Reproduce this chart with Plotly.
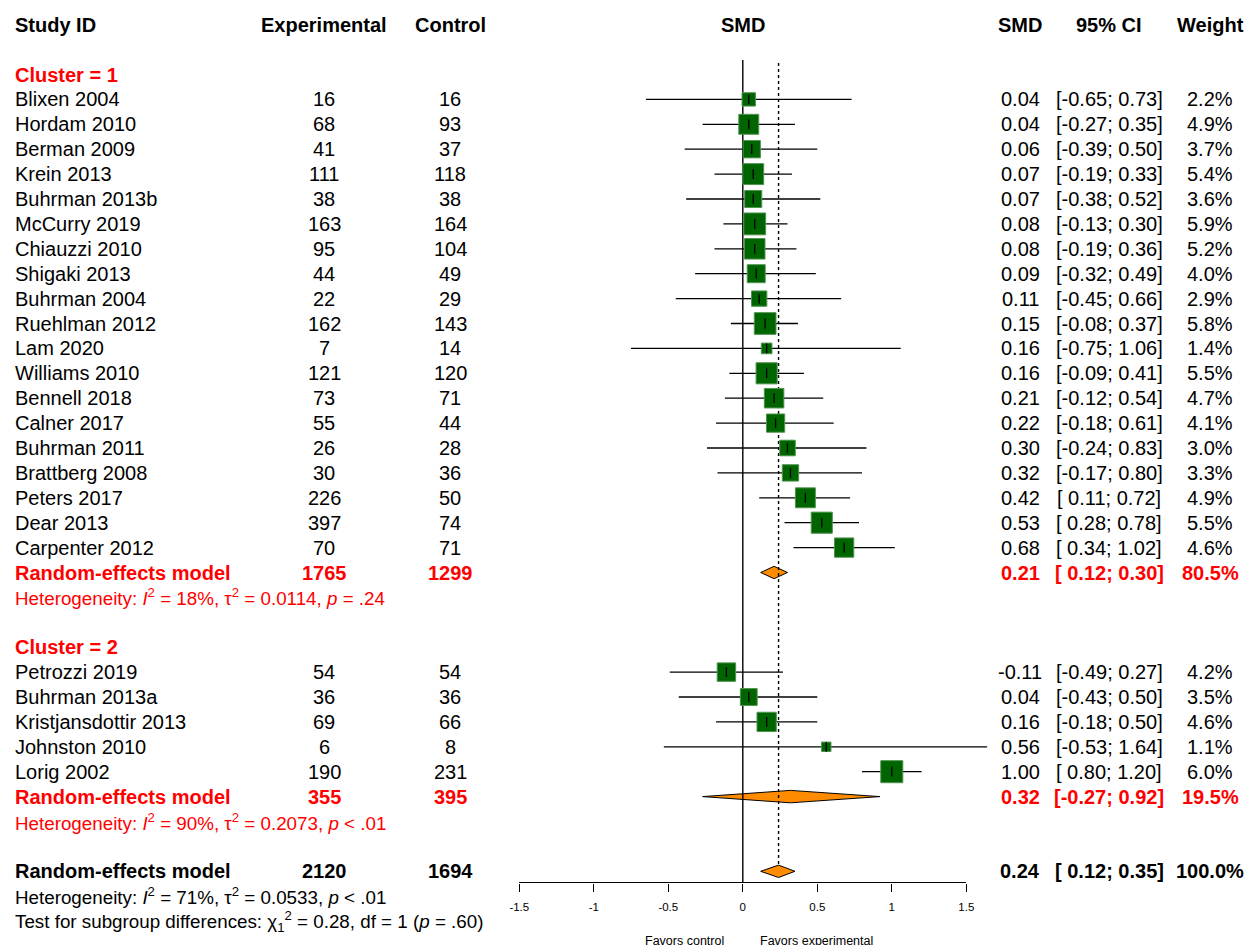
import plotly.graph_objects as go

# ---------------- data ----------------
c1_study = ["Blixen 2004", "Hordam 2010", "Berman 2009", "Krein 2013", "Buhrman 2013b",
            "McCurry 2019", "Chiauzzi 2010", "Shigaki 2013", "Buhrman 2004", "Ruehlman 2012",
            "Lam 2020", "Williams 2010", "Bennell 2018", "Calner 2017", "Buhrman 2011",
            "Brattberg 2008", "Peters 2017", "Dear 2013", "Carpenter 2012"]
c1_n_exp = [16, 68, 41, 111, 38, 163, 95, 44, 22, 162, 7, 121, 73, 55, 26, 30, 226, 397, 70]
c1_n_ctrl = [16, 93, 37, 118, 38, 164, 104, 49, 29, 143, 14, 120, 71, 44, 28, 36, 50, 74, 71]
c1_smd = [0.04, 0.04, 0.06, 0.07, 0.07, 0.08, 0.08, 0.09, 0.11, 0.15, 0.16, 0.16, 0.21, 0.22,
          0.30, 0.32, 0.42, 0.53, 0.68]
c1_lo = [-0.65, -0.27, -0.39, -0.19, -0.38, -0.13, -0.19, -0.32, -0.45, -0.08, -0.75, -0.09,
         -0.12, -0.18, -0.24, -0.17, 0.11, 0.28, 0.34]
c1_hi = [0.73, 0.35, 0.50, 0.33, 0.52, 0.30, 0.36, 0.49, 0.66, 0.37, 1.06, 0.41, 0.54, 0.61,
         0.83, 0.80, 0.72, 0.78, 1.02]
c1_w = [2.2, 4.9, 3.7, 5.4, 3.6, 5.9, 5.2, 4.0, 2.9, 5.8, 1.4, 5.5, 4.7, 4.1, 3.0, 3.3, 4.9, 5.5, 4.6]
c1_re_n = [1765, 1299]
c1_re_ci = [0.21, 0.12, 0.30]
c1_re_w = 80.5
c1_het = "Heterogeneity: <i>I</i><sup>2</sup> = 18%, τ<sup>2</sup> = 0.0114, <i>p</i> = .24"

c2_study = ["Petrozzi 2019", "Buhrman 2013a", "Kristjansdottir 2013", "Johnston 2010", "Lorig 2002"]
c2_n_exp = [54, 36, 69, 6, 190]
c2_n_ctrl = [54, 36, 66, 8, 231]
c2_smd = [-0.11, 0.04, 0.16, 0.56, 1.00]
c2_lo = [-0.49, -0.43, -0.18, -0.53, 0.80]
c2_hi = [0.27, 0.50, 0.50, 1.64, 1.20]
c2_w = [4.2, 3.5, 4.6, 1.1, 6.0]
c2_re_n = [355, 395]
c2_re_ci = [0.32, -0.27, 0.92]
c2_re_w = 19.5
c2_het = "Heterogeneity: <i>I</i><sup>2</sup> = 90%, τ<sup>2</sup> = 0.2073, <i>p</i> &lt; .01"

all_re_n = [2120, 1694]
all_re_ci = [0.24, 0.12, 0.35]
all_re_w = 100.0
all_het = "Heterogeneity: <i>I</i><sup>2</sup> = 71%, τ<sup>2</sup> = 0.0533, <i>p</i> &lt; .01"
all_test = ("Test for subgroup differences: χ<sub>1</sub><sup>2</sup> = 0.28, df = 1 "
            "(<i>p</i> = .60)")

tick_vals = [-1.5, -1, -0.5, 0, 0.5, 1, 1.5]
tick_text = ["-1.5", "-1", "-0.5", "0", "0.5", "1", "1.5"]
headers = ["Study ID", "Experimental", "Control", "SMD", "SMD", "95% CI", "Weight"]
label_left = "Favors control"
label_right = "Favors experimental"

# ---------------- layout constants (pixels) ----------------
W, H = 1248, 945
ROW0, STEP = 74.5, 24.9           # pixel of row 0, pixels per row
X0, XS = 742.8, 149.0             # pixel of SMD 0, pixels per SMD unit
AXIS_Y = 882.3
FONT = "Liberation Sans, Arial, sans-serif"
RED = "#FF0000"
GREEN = "#006400"
ORANGE = "#FF8C00"
FS = 20
FS_HET = 18.8
FS_TICK = 11.5

COL_STUDY = 13
COL_EXP = 324
COL_CTRL = 450
COL_SMD = 1020
COL_CI = 1109
COL_W = 1210

def fy(p):
    """pixel row -> y data (row units)"""
    return (p - ROW0) / STEP

def fx(p):
    """pixel column -> x data (SMD units)"""
    return (p - X0) / XS

fig = go.Figure()
ann = []

def txt(xp, r, s, color="black", size=FS, anchor="center", bold=False):
    ann.append(dict(x=fx(xp), xref="x", y=r, yref="y",
                    text=f"<b>{s}</b>" if bold else s, showarrow=False,
                    xanchor=anchor, yanchor="middle",
                    font=dict(family=FONT, size=size, color=color)))

def fmt_ci(lo, hi):
    return f"[{lo:5.2f}; {hi:4.2f}]"

# headers
HR = -2
txt(COL_STUDY, HR, headers[0], anchor="left", bold=True)
txt(COL_EXP, HR, headers[1], bold=True)
txt(COL_CTRL, HR, headers[2], bold=True)
txt(X0, HR, headers[3], bold=True)
txt(COL_SMD, HR, headers[4], bold=True)
txt(COL_CI, HR, headers[5], bold=True)
txt(COL_W, HR, headers[6], bold=True)

ci_x, ci_y = [], []
sq_x, sq_y, sq_s = [], [], []

def add_studies(start, study, ne, nc, smd, lo, hi, w):
    for i in range(len(study)):
        r = start + i
        txt(COL_STUDY, r, study[i], anchor="left")
        txt(COL_EXP, r, str(ne[i]))
        txt(COL_CTRL, r, str(nc[i]))
        txt(COL_SMD, r, f"{smd[i]:.2f}")
        txt(COL_CI, r, fmt_ci(lo[i], hi[i]))
        txt(COL_W, r, f"{w[i]:.1f}%")
        ci_x.extend([lo[i], hi[i], None])
        ci_y.extend([r, r, None])
        sq_x.append(smd[i])
        sq_y.append(r)
        sq_s.append(9.0 * w[i] ** 0.5)

DH = 6.2 / STEP   # diamond half height (rows)

def add_summary(r, n, ci, wt, color):
    txt(COL_STUDY, r, "Random-effects model", color=color, anchor="left", bold=True)
    txt(COL_EXP, r, str(n[0]), color=color, bold=True)
    txt(COL_CTRL, r, str(n[1]), color=color, bold=True)
    txt(COL_SMD, r, f"{ci[0]:.2f}", color=color, bold=True)
    txt(COL_CI, r, fmt_ci(ci[1], ci[2]), color=color, bold=True)
    txt(COL_W, r, f"{wt:.1f}%", color=color, bold=True)
    fig.add_trace(go.Scatter(
        x=[ci[1], ci[0], ci[2], ci[0], ci[1]], y=[r, r - DH, r, r + DH, r],
        mode="lines", fill="toself", fillcolor=ORANGE,
        line=dict(color="black", width=1), hoverinfo="skip"))

# cluster 1
txt(COL_STUDY, 0, "Cluster = 1", color=RED, anchor="left", bold=True)
add_studies(1, c1_study, c1_n_exp, c1_n_ctrl, c1_smd, c1_lo, c1_hi, c1_w)
add_summary(20, c1_re_n, c1_re_ci, c1_re_w, RED)
txt(COL_STUDY, 21, c1_het, color=RED, size=FS_HET, anchor="left")

# cluster 2
txt(COL_STUDY, 23, "Cluster = 2", color=RED, anchor="left", bold=True)
add_studies(24, c2_study, c2_n_exp, c2_n_ctrl, c2_smd, c2_lo, c2_hi, c2_w)
add_summary(29, c2_re_n, c2_re_ci, c2_re_w, RED)
txt(COL_STUDY, 30, c2_het, color=RED, size=FS_HET, anchor="left")

# overall
add_summary(32, all_re_n, all_re_ci, all_re_w, "black")
txt(COL_STUDY, 33, all_het, size=FS_HET, anchor="left")
txt(COL_STUDY, 34, all_test, size=FS_HET, anchor="left")

# reference lines
fig.add_trace(go.Scatter(x=[0, 0], y=[fy(60), fy(AXIS_Y)], mode="lines",
                         line=dict(color="black", width=1.4), hoverinfo="skip"))
fig.add_trace(go.Scatter(x=[all_re_ci[0], all_re_ci[0]], y=[fy(63), 32 - DH],
                         mode="lines", line=dict(color="black", width=1.4, dash="dot"),
                         hoverinfo="skip"))

# study CIs, squares, centre ticks
fig.add_trace(go.Scatter(x=ci_x, y=ci_y, mode="lines",
                         line=dict(color="black", width=1.3), hoverinfo="skip"))
fig.add_trace(go.Scatter(x=sq_x, y=sq_y, mode="markers",
                         marker=dict(symbol="square", size=sq_s, color=GREEN, opacity=1,
                                     line=dict(color="#4f944f", width=1)),
                         hoverinfo="skip"))
fig.add_trace(go.Scatter(x=sq_x, y=sq_y, mode="markers",
                         marker=dict(symbol="line-ns", size=7, opacity=1,
                                     line=dict(color="black", width=1.3)),
                         hoverinfo="skip"))

# dummy trace for the display axis
fig.add_trace(go.Scatter(x=[0], y=[-10], xaxis="x2", yaxis="y", mode="markers",
                         marker=dict(opacity=0), hoverinfo="skip"))

# favour labels
FAV_Y = 940.5
txt(726, fy(FAV_Y), label_left, size=12.5, anchor="right")
txt(758, fy(FAV_Y), label_right, size=12.5, anchor="left")

fig.update_layout(
    width=W, height=H, margin=dict(l=0, r=0, t=0, b=0, pad=0, autoexpand=False),
    paper_bgcolor="white", plot_bgcolor="rgba(0,0,0,0)",
    showlegend=False, annotations=ann, hovermode=False,
    font=dict(family=FONT, color="black"),
    xaxis=dict(domain=[0, 1], range=[fx(0), fx(W)], visible=False,
               fixedrange=True, automargin=False),
    xaxis2=dict(domain=[(X0 - 1.5 * XS) / W, (X0 + 1.5 * XS) / W],
                range=[-1.5, 1.5], anchor="free", position=(H - AXIS_Y) / H,
                tickvals=tick_vals, ticktext=tick_text, ticks="outside",
                ticklen=8, tickwidth=1.4, tickcolor="black", showline=True,
                linewidth=1.4, linecolor="black", showgrid=False, zeroline=False,
                tickfont=dict(family=FONT, size=FS_TICK, color="black"),
                ticklabelstandoff=6, fixedrange=True, automargin=False),
    yaxis=dict(domain=[0, 1], range=[fy(H), fy(0)],
               visible=False, fixedrange=True, automargin=False),
)

# remove the default page margin so the 1248x945 figure fills the window exactly
fig.write_html("out.html", config={"displayModeBar": False},
               post_script="document.body.style.margin='0';"
                           "document.body.style.overflow='hidden';")
